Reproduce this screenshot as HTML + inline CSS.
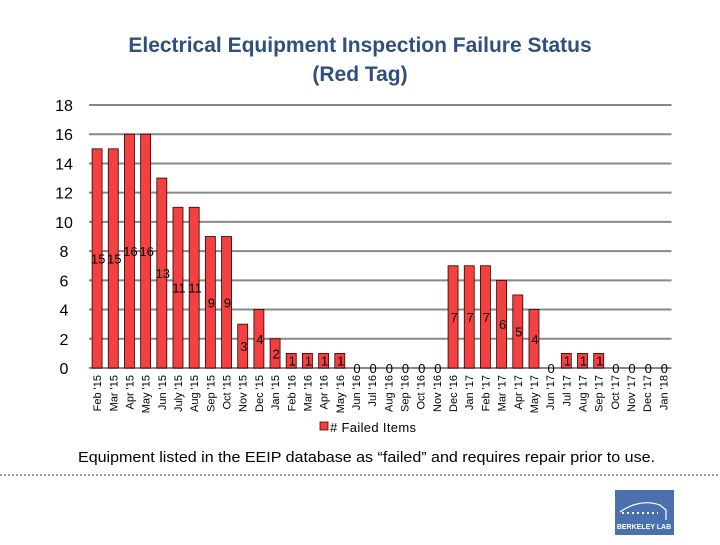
<!DOCTYPE html>
<html><head><meta charset="utf-8"><style>
body{margin:0;width:720px;height:540px;background:#fff;overflow:hidden;font-family:"Liberation Sans",Arial,sans-serif;}
</style></head><body>
<svg width="720" height="540" xmlns="http://www.w3.org/2000/svg">
<text x="360" y="52" text-anchor="middle" font-size="21" font-weight="bold" fill="#2f4f7f">Electrical Equipment Inspection Failure Status</text>
<text x="360" y="81" text-anchor="middle" font-size="21" font-weight="bold" fill="#2f4f7f">(Red Tag)</text>
<g id="grid"></g><g id="bars"></g><g id="labels"></g>
<rect x="320" y="422" width="8" height="8" fill="#f04040" stroke="#600" stroke-width="0.8"/>
<text x="330" y="432" font-size="13" textLength="86" fill="#000"># Failed Items</text>
<text x="78" y="462" font-size="15" textLength="577" lengthAdjust="spacingAndGlyphs" fill="#000">Equipment listed in the EEIP database as “failed” and requires repair prior to use.</text>
<line x1="0" y1="475" x2="720" y2="475" stroke="#333" stroke-dasharray="2,2"/>
<g>
<rect x="615" y="490" width="59" height="45" fill="#4a70ad"/>
<path d="M620 512 Q640 498 660 505 L666 510 L666 520" stroke="#fff" fill="none" stroke-width="1.2"/>
<line x1="622" y1="513" x2="658" y2="513" stroke="#fff" stroke-width="2" stroke-dasharray="2,3"/>
<text x="644" y="529" text-anchor="middle" font-size="7" font-weight="bold" fill="#fff">BERKELEY LAB</text>
</g>
</svg>
<script>
const categories=["Feb '15","Mar '15","Apr '15","May '15","Jun '15","July '15","Aug '15","Sep '15","Oct '15","Nov '15","Dec '15","Jan '15","Feb '16","Mar '16","Apr '16","May '16","Jun '16","Jul '16","Aug '16","Sep '16","Oct '16","Nov '16","Dec '16","Jan '17","Feb '17","Mar '17","Apr '17","May '17","Jun '17","Jul '17","Aug '17","Sep '17","Oct '17","Nov '17","Dec '17","Jan '18"];
const values=[15,15,16,16,13,11,11,9,9,3,4,2,1,1,1,1,0,0,0,0,0,0,7,7,7,6,5,4,0,1,1,1,0,0,0,0];
const yTicks=[0,2,4,6,8,10,12,14,16,18];
const NS="http://www.w3.org/2000/svg";
const left=89,right=671.5,y0=368,y18=105,ymax=18;
const step=(right-left)/categories.length;
const yScale=v=>y0-(y0-y18)*v/ymax;
const xCenter=i=>left+step*(i+0.5);
function mk(tag,attrs,parent,txt){const e=document.createElementNS(NS,tag);for(const k in attrs)e.setAttribute(k,attrs[k]);if(txt!==undefined)e.textContent=txt;parent.appendChild(e);return e;}
const grid=document.getElementById('grid'),bars=document.getElementById('bars'),labels=document.getElementById('labels');
yTicks.forEach(t=>{
  const l=mk('line',{x1:left,x2:right,y1:yScale(t),y2:yScale(t),stroke:'#888','stroke-width':2},grid);
  
  
  const tx=mk('text',{x:64,y:yScale(t)+6,'text-anchor':'middle','font-size':16,fill:'#000'},grid,String(t));
  
  
});
values.forEach((v,i)=>{
  const cx=xCenter(i);
  if(v>0){
    const r=mk('rect',{x:cx-5,y:yScale(v),width:10,height:y0-yScale(v),fill:'#f34040',stroke:'#300','stroke-width':0.8},bars);
    
    
  }
  const vl=mk('text',{x:cx+1,y:yScale(v/2)+5,'text-anchor':'middle','font-size':13,fill:'#000'},labels,String(v));
  
  
  const xl=mk('text',{x:0,y:0,'text-anchor':'end','font-size':11,fill:'#000',transform:`translate(${cx+4},375) rotate(-90)`},labels,categories[i]);
  
  
});
</script>
</body></html>
